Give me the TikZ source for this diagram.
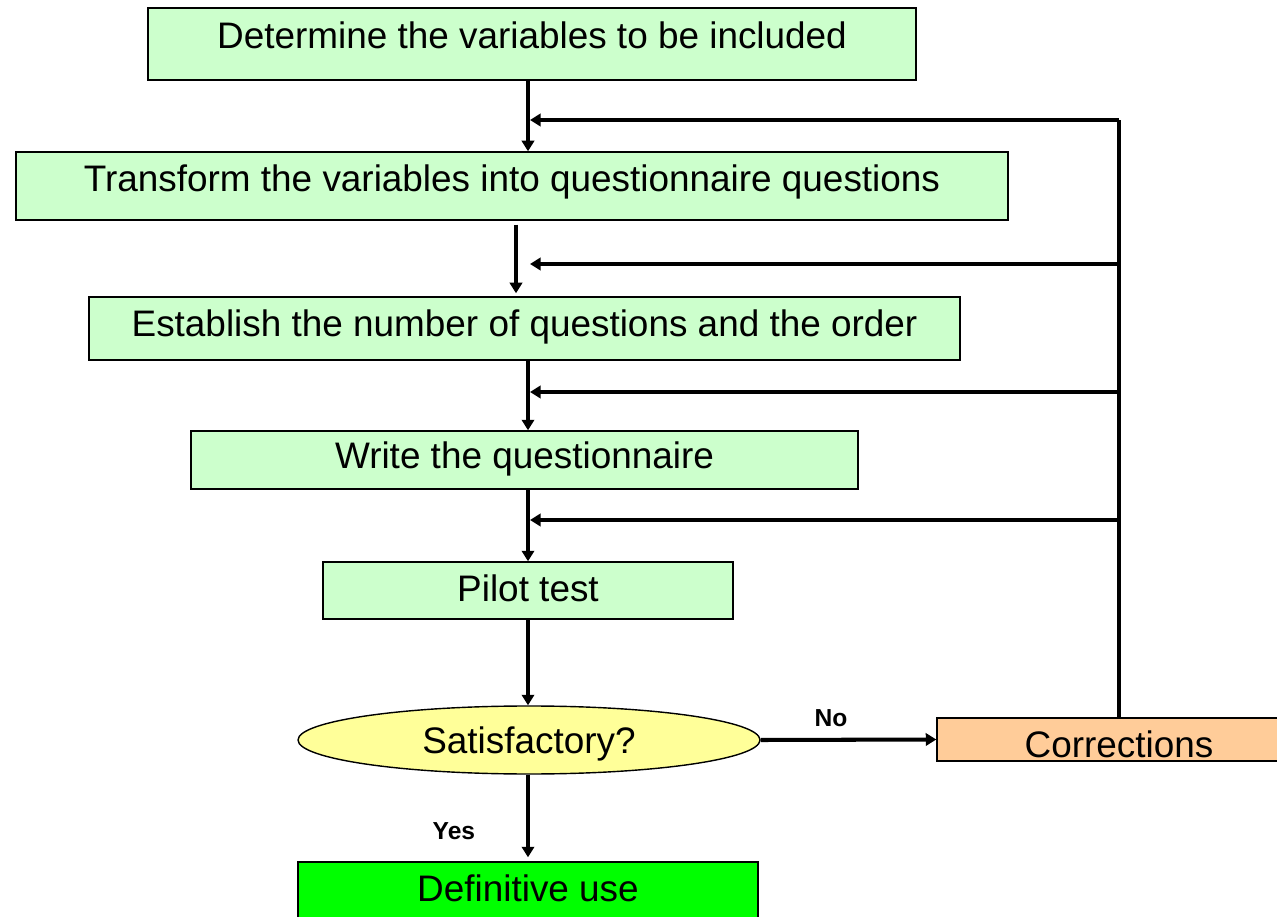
\documentclass[tikz,border=0pt]{standalone}
\usepackage{fontspec}
\setmainfont{Liberation Sans}
\usetikzlibrary{arrows.meta,shapes.geometric}

\begin{document}
\begin{tikzpicture}[
  stepbox/.style={draw, line width=0.8pt, fill=lightgreen, inner sep=0pt, text height=15pt, text depth=6pt, font=\fontsize{21}{25}\selectfont},
  flow/.style={line width=2.3pt, -{Triangle[length=6pt,width=7pt]}},
  answer/.style={font=\fontsize{14}{16}\selectfont\bfseries}
]
\definecolor{lightgreen}{RGB}{204,255,204}
\definecolor{lightyellow}{RGB}{255,255,153}
\definecolor{lightorange}{RGB}{255,204,153}
\definecolor{brightgreen}{RGB}{0,255,0}
\useasboundingbox (0,0) rectangle (25.54,-18.34);
\node[stepbox, text depth=10pt, minimum width=15.36cm, minimum height=1.44cm] (vars) at (10.64,-0.88) {Determine the variables to be included};
\node[stepbox, text depth=9pt, minimum width=19.84cm, minimum height=1.36cm] (transform) at (10.24,-3.72) {Transform the variables into questionnaire questions};
\node[stepbox, minimum width=17.42cm, minimum height=1.26cm] (order) at (10.49,-6.57) {Establish the number of questions and the order};
\node[stepbox, text depth=5pt, minimum width=13.34cm, minimum height=1.16cm] (write) at (10.49,-9.2) {Write the questionnaire};
\node[stepbox, text depth=3pt, minimum width=8.2cm, minimum height=1.14cm] (pilot) at (10.56,-11.81) {Pilot test};
\node[stepbox, ellipse, fill=lightyellow, text depth=0pt, minimum width=9.24cm, minimum height=1.36cm] (ok) at (10.58,-14.8) {Satisfactory?};
\node[stepbox, fill=lightorange, text height=20pt, text depth=0pt, minimum width=7.28cm, minimum height=0.86cm] (corr) at (22.38,-14.79) {Corrections};
\node[stepbox, fill=brightgreen, text depth=2pt, minimum width=9.2cm, minimum height=1.12cm] (use) at (10.56,-17.8) {Definitive use};
\coordinate (main) at (10.56,0);
\coordinate (side) at (10.32,0);
\coordinate (tip) at (10.6,0);
\coordinate (back) at (22.38,-2.4);
\draw[flow] (vars.south -| main) -- (transform.north -| main);
\draw[flow] ([yshift=-0.08cm]transform.south -| side) -- ([yshift=0.06cm]order.north -| side);
\draw[flow] (order.south -| main) -- (write.north -| main);
\draw[flow] (write.south -| main) -- (pilot.north -| main);
\draw[flow] (pilot.south -| main) -- (ok.north -| main);
\draw[flow] (ok.south -| main) -- node[answer, pos=0.68, left=0.9cm] (yes) {Yes} ([yshift=0.08cm]use.north -| main);
\draw[flow] (ok.east) -- node[answer, pos=0.4, above=0.1cm] (no) {No} (corr.west);
\draw[line width=2.3pt] (corr.north) -- (back);
\draw[flow] (back) -- (back -| tip);
\draw[flow] (back |- 0,-5.28) -- (tip |- 0,-5.28);
\draw[flow] (back |- 0,-7.84) -- (tip |- 0,-7.84);
\draw[flow] (back |- 0,-10.4) -- (tip |- 0,-10.4);
\end{tikzpicture}
\end{document}
